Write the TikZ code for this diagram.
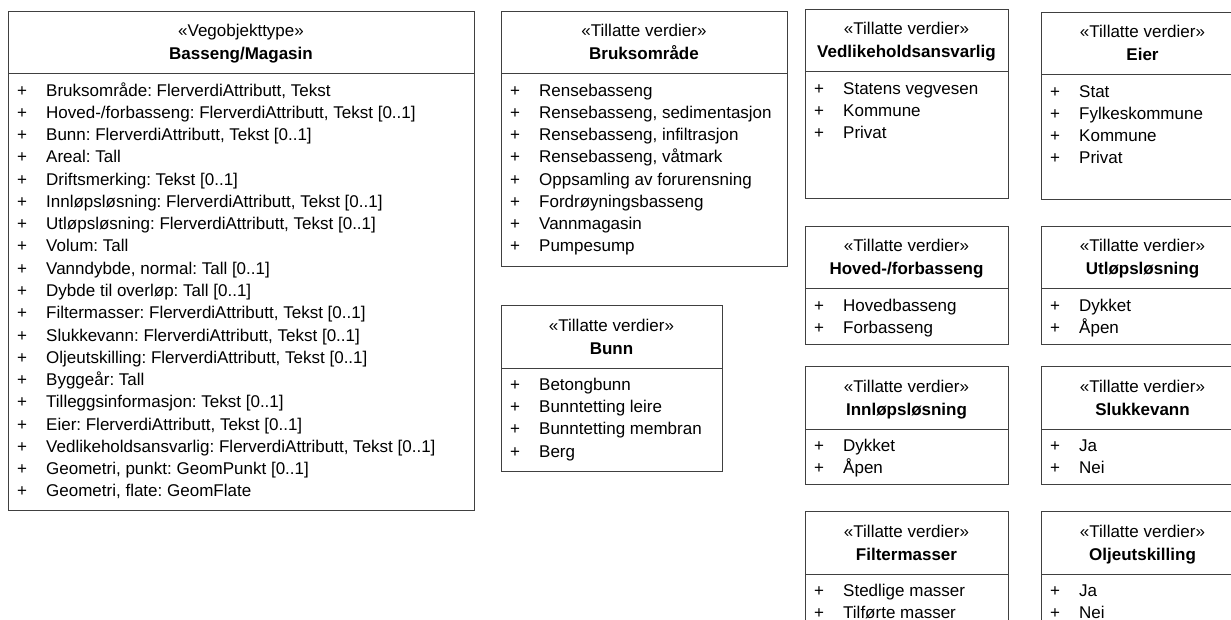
\documentclass[tikz,border=0pt]{standalone}
\usepackage{fontspec}
\setmainfont{Liberation Sans}
\frenchspacing
\definecolor{frame}{HTML}{404040}
\tikzset{
  umlframe/.style={draw=frame, line width=1pt, rectangle, inner sep=0pt, anchor=north west},
  sepline/.style={draw=frame, line width=1pt},
  stereo/.style={inner sep=0pt, anchor=base, font=\fontsize{17}{20}\selectfont},
  umltitle/.style={inner sep=0pt, anchor=base, font=\fontsize{17}{20}\selectfont\bfseries},
  itemtext/.style={inner sep=0pt, anchor=base west, font=\fontsize{17}{20}\selectfont},
  plussign/.style={inner sep=0pt, anchor=base, font=\fontsize{17}{20}\selectfont},
}
\newcommand{\umlbox}[8]{%
  \node[umlframe, minimum width={(#4-#2)*1pt}, minimum height={(#5-#3)*1pt}] (#1) at (#2,#3) {};
  \node[stereo] (#1-st) at ({(#2+#4)/2},#3+26) {«#6»};
  \node[umltitle] (#1-ti) at ({(#2+#4)/2},#3+49) {#7};
  \draw[sepline] ([yshift=-63pt]#1.north west) -- ([yshift=-63pt]#1.north east);
  \foreach \itm [count=\i] in {#8} {
    \node[plussign] (#1-p\i) at (#2+14,{#3+63+22.25*\i}) {+};
    \node[itemtext] (#1-i\i) at (#2+38,{#3+63+22.25*\i}) {\itm};
  }
}
\begin{document}
\begin{tikzpicture}[x=1pt,y=-1pt]
\useasboundingbox (0,0) rectangle (1231,620);
\clip (0,0) rectangle (1231,620);
\umlbox{main}{8}{11}{474}{510}{Vegobjekttype}{Basseng/Magasin}{%
 {Bruksområde: FlerverdiAttributt, Tekst},
 {Hoved-/forbasseng: FlerverdiAttributt, Tekst [0..1]},
 {Bunn: FlerverdiAttributt, Tekst [0..1]},
 {Areal: Tall},
 {Driftsmerking: Tekst [0..1]},
 {Innløpsløsning: FlerverdiAttributt, Tekst [0..1]},
 {Utløpsløsning: FlerverdiAttributt, Tekst [0..1]},
 {Volum: Tall},
 {Vanndybde, normal: Tall [0..1]},
 {Dybde til overløp: Tall [0..1]},
 {Filtermasser: FlerverdiAttributt, Tekst [0..1]},
 {Slukkevann: FlerverdiAttributt, Tekst [0..1]},
 {Oljeutskilling: FlerverdiAttributt, Tekst [0..1]},
 {Byggeår: Tall},
 {Tilleggsinformasjon: Tekst [0..1]},
 {Eier: FlerverdiAttributt, Tekst [0..1]},
 {Vedlikeholdsansvarlig: FlerverdiAttributt, Tekst [0..1]},
 {Geometri, punkt: GeomPunkt [0..1]},
 {Geometri, flate: GeomFlate}}
\umlbox{bruk}{501}{11}{787}{266}{Tillatte verdier}{Bruksområde}{%
 Rensebasseng,
 {Rensebasseng, sedimentasjon},
 {Rensebasseng, infiltrasjon},
 {Rensebasseng, våtmark},
 Oppsamling av forurensning,
 Fordrøyningsbasseng,
 Vannmagasin,
 Pumpesump}
\umlbox{bunn}{501}{305}{722}{471}{Tillatte verdier}{Bunn}{%
 Betongbunn, Bunntetting leire, Bunntetting membran, Berg}
\umlbox{vedl}{805}{9}{1008}{198}{Tillatte verdier}{Vedlikeholdsansvarlig}{%
 Statens vegvesen, Kommune, Privat}
\umlbox{eier}{1041}{12}{1244}{199}{Tillatte verdier}{Eier}{%
 Stat, Fylkeskommune, Kommune, Privat}
\umlbox{hoved}{805}{226}{1008}{344}{Tillatte verdier}{Hoved-/forbasseng}{%
 Hovedbasseng, Forbasseng}
\umlbox{utlop}{1041}{226}{1244}{344}{Tillatte verdier}{Utløpsløsning}{%
 Dykket, Åpen}
\umlbox{innlop}{805}{366}{1008}{484}{Tillatte verdier}{Innløpsløsning}{%
 Dykket, Åpen}
\umlbox{slukk}{1041}{366}{1244}{484}{Tillatte verdier}{Slukkevann}{%
 Ja, Nei}
\umlbox{filter}{805}{511}{1008}{640}{Tillatte verdier}{Filtermasser}{%
 Stedlige masser, Tilførte masser}
\umlbox{olje}{1041}{511}{1244}{640}{Tillatte verdier}{Oljeutskilling}{%
 Ja, Nei}
\end{tikzpicture}
\end{document}
